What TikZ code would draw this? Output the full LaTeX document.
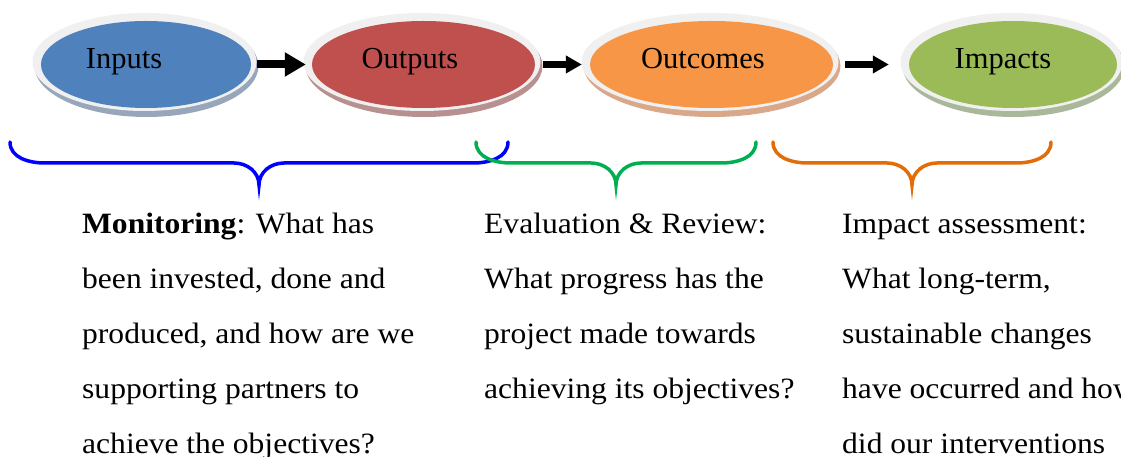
\documentclass[tikz,border=0pt]{standalone}
\usepackage{fontspec}
\setmainfont{Liberation Serif}
\newfontfamily\bodyfont[FakeStretch=1.07]{Liberation Serif}
\usetikzlibrary{
  calc,shapes.geometric,positioning,
  arrows.meta
}
\definecolor{inblue}{HTML}{4F81BD}
\definecolor{inred}{HTML}{C0504D}
\definecolor{inorange}{HTML}{F79646}
\definecolor{ingreen}{HTML}{9BBB59}
\definecolor{rimgray}{HTML}{F0F0F0}
\definecolor{shdblue}{HTML}{97A6BB}
\definecolor{shdred}{HTML}{B99090}
\definecolor{shdorange}{HTML}{D9A88A}
\definecolor{shdgreen}{HTML}{A9B89A}
\definecolor{brblue}{HTML}{0000FF}
\definecolor{brgreen}{HTML}{00B050}
\definecolor{brorange}{HTML}{E36C09}
\tikzset{
  shdell/.style={ellipse,inner sep=0pt,minimum height=102pt},
  rimell/.style={ellipse,inner sep=0pt,fill=rimgray,minimum height=98pt},
  coreell/.style={ellipse,inner sep=0pt,minimum height=87pt},
  lbl/.style={anchor=base,inner sep=0pt,font=\fontsize{30.5}{36}\selectfont},
  bigflow/.style={line width=8pt,-{Triangle[length=21pt,width=23pt]}},
  flow/.style={line width=6.5pt,-{Triangle[length=16pt,width=17pt]}},
  brc/.style={line width=3.5pt,line cap=round},
  qtext/.style={anchor=north west,inner sep=0pt,align=left,
    font=\bodyfont\fontsize{29.5}{55}\selectfont}
}
\begin{document}
\begin{tikzpicture}[x=1pt,y=1pt]
\clip (0,0) rectangle (1121,457);

% shadows
\node[shdell,fill=shdblue,minimum width=224pt] (inputs-shd) at (146.5,391) {};
\node[shdell,fill=shdred,minimum width=237pt] (outputs-shd) at (424,391) {};
\node[shdell,fill=shdorange,minimum width=257pt] (outcomes-shd) at (712,391) {};
\node[shdell,fill=shdgreen,minimum width=222pt] (impacts-shd) at (1013.5,391) {};

% rims
\node[rimell,minimum width=224pt] (inputs-rim) at (144.5,395) {};
\node[rimell,minimum width=237pt] (outputs-rim) at (422,395) {};
\node[rimell,minimum width=257pt] (outcomes-rim) at (710,395) {};
\node[rimell,minimum width=222pt] (impacts-rim) at (1011.5,395) {};

% coloured ellipses
\node[coreell,fill=inblue,minimum width=210pt] (inputs) at (146,392.5) {};
\node[coreell,fill=inred,minimum width=223pt] (outputs) at (423.5,392.5) {};
\node[coreell,fill=inorange,minimum width=243pt] (outcomes) at (711.5,392.5) {};
\node[coreell,fill=ingreen,minimum width=208pt] (impacts) at (1013,392.5) {};

\node[lbl] (inputs-lbl) at (124,388.7) {Inputs};
\node[lbl] (outputs-lbl) at (410,388.7) {Outputs};
\node[lbl] (outcomes-lbl) at (703,388.7) {Outcomes};
\node[lbl] (impacts-lbl) at (1003,388.7) {Impacts};

\draw[bigflow,shorten <=6pt,shorten >=6pt] (inputs.east) -- (outputs.west);
\draw[flow,shorten <=8pt,shorten >=8pt] (outputs.east) -- (outcomes.west);
\draw[flow,shorten <=12pt,shorten >=20pt] (outcomes.east) -- (impacts.west);

% braces
\draw[brc,brblue] (10,315) to[out=-90,in=180] (45,294) -- (234,294)
  to[out=0,in=90] (259,272) to[out=90,in=180] (284,294) -- (473,294)
  to[out=0,in=-90] (508,315);
\draw[brc,brgreen] (476,315) to[out=-90,in=180] (511,294) -- (591,294)
  to[out=0,in=90] (616,272) to[out=90,in=180] (641,294) -- (721,294)
  to[out=0,in=-90] (756,315);
\draw[brc,brorange] (773,315) to[out=-90,in=180] (808,294) -- (887,294)
  to[out=0,in=90] (912,272) to[out=90,in=180] (937,294) -- (1016,294)
  to[out=0,in=-90] (1051,315);

\node[qtext] (monitoring) at (82,262.5) {\strut\textbf{Monitoring}: What has\\
  been invested, done and\\produced, and how are we\\
  supporting partners to\\achieve the objectives?};
\node[qtext] (evaluation) at (484,262.5) {\strut Evaluation \& Review:\\
  What progress has the\\project made towards\\achieving its objectives?};
\node[qtext] (assessment) at (842,262.5) {\strut Impact assessment:\\
  What long-term,\\sustainable changes\\have occurred and how\\
  did our interventions};
\end{tikzpicture}
\end{document}
